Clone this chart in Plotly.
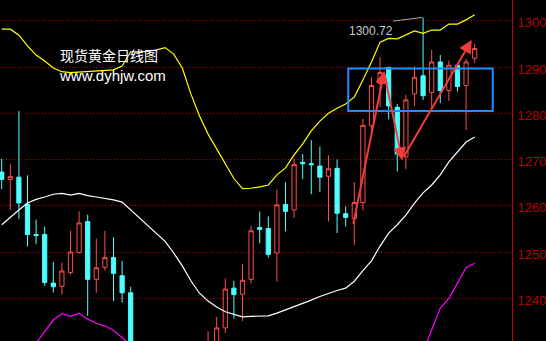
import plotly.graph_objects as go

# ---------------- data ----------------
idx = list(range(56))

opens = [1267.3, 1265.7, 1266.2, 1260.4, 1253.8, 1253.8, 1243.3, 1242.6, 1245.6, 1249.9,
         1256.6, 1244.1, 1246.7, 1248.8, 1244.9, 1241.2, 1227.0, 1222.0, 1225.0, 1216.0,
         1212.0, 1216.0, 1208.0, 1219.0, 1214.0, 1222.0, 1233.6, 1242.2, 1240.9, 1244.1,
         1255.3, 1255.1, 1249.8, 1260.3, 1259.1, 1269.4, 1269.1, 1268.6, 1266.4, 1268.1,
         1258.3, 1257.2, 1260.7, 1277.3, 1286.5, 1289.9, 1281.3, 1270.6, 1284.2, 1288.1,
         1284.5, 1291.1, 1284.9, 1290.4, 1286.0, 1291.9]
highs = [1270.2, 1269.0, 1280.5, 1266.6, 1257.0, 1255.5, 1247.9, 1247.7, 1254.6, 1258.8,
         1258.1, 1252.9, 1254.6, 1253.2, 1248.1, 1242.5, 1229.5, 1228.0, 1229.0, 1220.0,
         1219.0, 1221.0, 1222.0, 1226.0, 1232.9, 1236.0, 1244.3, 1243.8, 1247.4, 1255.7,
         1258.8, 1257.7, 1263.5, 1265.1, 1270.2, 1271.2, 1274.2, 1272.8, 1270.9, 1270.0,
         1259.9, 1265.1, 1278.8, 1287.8, 1292.1, 1290.1, 1282.0, 1284.0, 1290.2, 1300.72,
         1293.7, 1292.6, 1291.4, 1290.4, 1291.8, 1295.0]
lows = [1263.6, 1259.1, 1257.2, 1251.2, 1251.7, 1242.7, 1241.2, 1240.8, 1245.1, 1249.7,
        1236.2, 1241.2, 1246.0, 1239.4, 1239.1, 1225.0, 1220.0, 1219.0, 1214.0, 1210.0,
        1208.0, 1206.0, 1205.0, 1212.0, 1210.0, 1219.0, 1232.5, 1235.6, 1235.1, 1243.2,
        1251.9, 1248.8, 1243.6, 1254.5, 1257.4, 1265.8, 1262.5, 1263.0, 1256.6, 1254.1,
        1255.5, 1251.5, 1259.0, 1274.8, 1281.4, 1278.7, 1267.4, 1267.9, 1281.6, 1282.9,
        1281.3, 1282.2, 1282.7, 1284.7, 1276.4, 1290.9]
closes = [1265.7, 1266.3, 1260.6, 1253.8, 1253.6, 1243.4, 1242.5, 1245.9, 1250.0, 1256.3,
          1244.1, 1246.6, 1248.8, 1245.4, 1241.2, 1227.0, 1222.0, 1225.0, 1216.0, 1212.0,
          1216.0, 1208.0, 1219.0, 1214.0, 1229.0, 1233.6, 1242.0, 1240.8, 1243.9, 1254.6,
          1254.9, 1249.5, 1260.2, 1258.8, 1268.9, 1269.1, 1268.9, 1266.2, 1268.0, 1258.4,
          1257.5, 1260.7, 1277.4, 1286.0, 1288.8, 1281.6, 1271.2, 1282.9, 1287.8, 1283.8,
          1291.1, 1284.9, 1290.4, 1285.8, 1291.1, 1294.0]

upper_band = [1298.2, 1298.2, 1296.9, 1294.6, 1292.6, 1291.3, 1289.8, 1289.0, 1288.8, 1288.9,
              1289.0, 1289.1, 1289.3, 1289.4, 1290.2, 1293.3, 1293.3, 1293.4, 1293.7, 1294.2,
              1292.8, 1289.8, 1284.2, 1279.4, 1275.5, 1272.3, 1268.8, 1265.9, 1263.7, 1263.8,
              1264.1, 1264.5, 1266.7, 1268.2, 1271.0, 1273.4, 1276.2, 1278.3, 1280.0, 1281.1,
              1282.0, 1283.5, 1287.2, 1291.1, 1295.4, 1296.2, 1296.1, 1296.9, 1297.8, 1297.3,
              1298.0, 1298.0, 1299.3, 1299.3, 1300.2, 1301.3]
middle_band = [1255.9, 1257.6, 1259.1, 1260.6, 1261.4, 1261.9, 1262.5, 1262.7, 1262.3, 1262.7,
               1262.2, 1261.9, 1261.6, 1261.3, 1260.8, 1259.1, 1257.5, 1255.9, 1254.1, 1252.3,
               1249.8, 1247.0, 1243.8, 1241.1, 1239.4, 1238.1, 1237.1, 1236.5, 1236.0, 1236.1,
               1236.1, 1236.2, 1236.8, 1237.5, 1238.1, 1238.9, 1239.6, 1240.4, 1241.1, 1241.7,
               1242.2, 1243.7, 1246.0, 1248.1, 1251.3, 1254.1, 1255.9, 1258.0, 1260.6, 1262.8,
               1264.5, 1266.7, 1269.5, 1271.7, 1273.8, 1274.9]
lower_band = [None, None, None, None, 1230.3, 1232.7, 1235.3, 1236.7, 1236.1, 1236.8,
              1235.5, 1234.6, 1234.0, 1233.1, 1231.6, 1229.9, None, None, None, None,
              None, None, None, None, None, None, None, None, None, None,
              None, None, None, None, None, None, None, None, None, None,
              None, None, None, None, None, None, None, None, None, 1228.4,
              1233.2, 1237.9, 1240.0, 1243.3, 1246.6, 1247.6]

tick_vals = [1240, 1250, 1260, 1270, 1280, 1290, 1300]
tick_text = ["1240", "1250", "1260", "1270", "1280", "1290", "1300"]

title_text = "现货黄金日线图"
site_text = "www.dyhjw.com"
high_label = "1300.72"

# arrow segments: (tail index, tail price, head index, head price)
arrow_segments = [(40.85, 1255.8, 44.5, 1289.2),
                  (44.46, 1288.9, 46.58, 1269.8),
                  (46.65, 1270.3, 54.65, 1295.85)]
# box: (index from, index to, price low, price high)
range_box = (40.3, 57.1, 1280.5, 1289.7)

# ---------------- figure ----------------
RED = "#ff4d4d"
CYAN = "#4dffff"
AXIS_RED = "#c00000"

fig = go.Figure()

fig.add_trace(go.Scatter(x=idx, y=upper_band, mode="lines",
                         line=dict(color="#ffff00", width=1.2), hoverinfo="skip"))
fig.add_trace(go.Scatter(x=idx, y=middle_band, mode="lines",
                         line=dict(color="#ffffff", width=1.2), hoverinfo="skip"))
fig.add_trace(go.Scatter(x=idx, y=lower_band, mode="lines", connectgaps=False,
                         line=dict(color="#ff00ff", width=1.2), hoverinfo="skip"))

fig.add_trace(go.Candlestick(
    x=idx, open=opens, high=highs, low=lows, close=closes,
    increasing=dict(line=dict(color=RED, width=1), fillcolor="#000000"),
    decreasing=dict(line=dict(color=CYAN, width=1), fillcolor=CYAN),
    whiskerwidth=0,
))

# blue range rectangle
fig.add_shape(type="rect", xref="x", yref="y",
              x0=range_box[0], x1=range_box[1], y0=range_box[2], y1=range_box[3],
              line=dict(color="#1e8fff", width=2), fillcolor="rgba(0,0,0,0)")

# grey high marker line
fig.add_shape(type="line", xref="x", yref="y",
              x0=45.5, y0=1299.95, x1=48.9, y1=highs[49],
              line=dict(color="#a8a8a8", width=1))

annotations = []
for tx, ty, hx, hy in arrow_segments:
    annotations.append(dict(x=hx, y=hy, ax=tx, ay=ty, xref="x", yref="y",
                            axref="x", ayref="y", text="", showarrow=True,
                            arrowhead=2, arrowsize=1.3, arrowwidth=2,
                            arrowcolor="#f23c3c", standoff=0, startstandoff=0))

annotations.append(dict(x=58 / 512, y=1 - 55 / 341, xref="paper", yref="paper",
                        text=title_text, showarrow=False, xanchor="left", yanchor="middle",
                        font=dict(family="Noto Sans CJK SC", size=14, color="#ffffff")))
annotations.append(dict(x=57 / 512, y=1 - 75.5 / 341, xref="paper", yref="paper",
                        text=site_text, showarrow=False, xanchor="left", yanchor="middle",
                        font=dict(family="Liberation Sans, Arial", size=15, color="#ffffff")))
annotations.append(dict(x=346.5 / 512, y=1 - 30.5 / 341, xref="paper", yref="paper",
                        text=high_label, showarrow=False, xanchor="left", yanchor="middle",
                        font=dict(family="Liberation Sans, Arial", size=12, color="#c8c8c8")))

fig.update_layout(
    width=546, height=341,
    margin=dict(l=0, r=34, t=0, b=0, pad=0),
    paper_bgcolor="#000000", plot_bgcolor="#000000",
    showlegend=False,
    annotations=annotations,
    xaxis=dict(range=[-0.198, 59.34], visible=False, rangeslider=dict(visible=False),
               fixedrange=True),
    yaxis=dict(range=[1230.77, 1304.5], side="right",
               tickvals=tick_vals, ticktext=tick_text,
               showgrid=True, gridcolor=AXIS_RED, gridwidth=1, griddash="1px,2px",
               zeroline=False, showline=True, linecolor=AXIS_RED, linewidth=1,
               ticks="", ticklabelstandoff=2, ticklabelshift=2,
               tickfont=dict(family="Liberation Sans, Arial", size=13, color="#b80000"),
               fixedrange=True),
)

fig.write_html("out.html")
